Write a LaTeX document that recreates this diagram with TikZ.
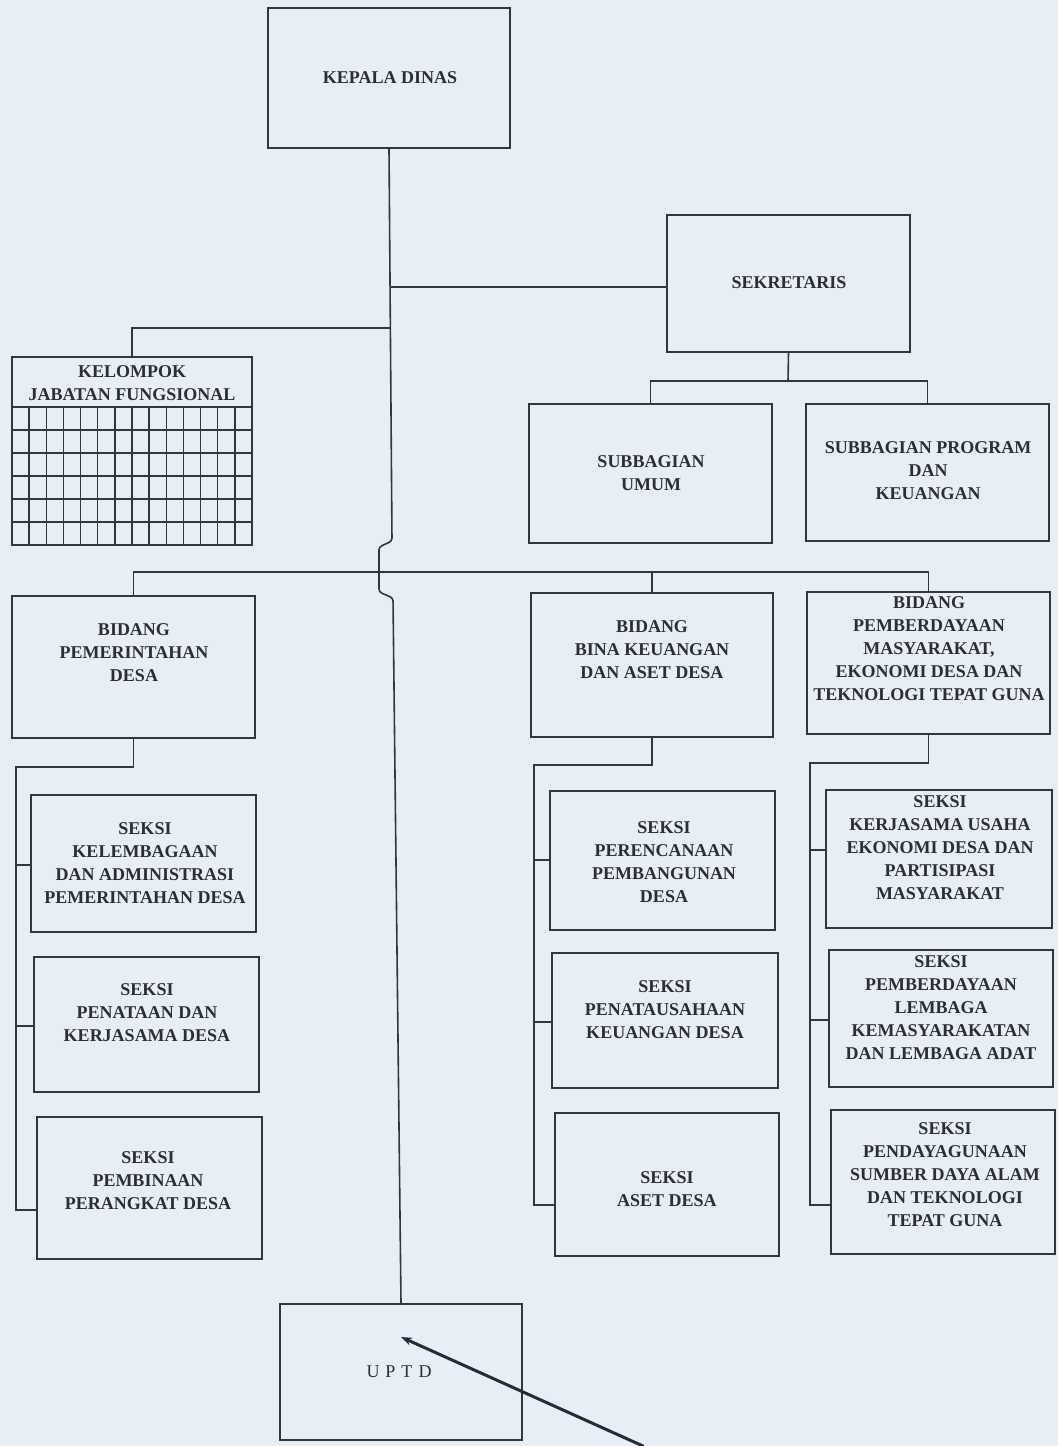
\documentclass[tikz,border=0pt]{standalone}
\usepackage{fontspec}
\setmainfont{Liberation Serif}
\usetikzlibrary{arrows.meta,calc}
\definecolor{bgc}{RGB}{232,238,246}
\definecolor{ink}{RGB}{52,54,60}
\definecolor{txtc}{RGB}{45,45,52}
\definecolor{pen}{RGB}{40,42,55}
\begin{document}
\begin{tikzpicture}[x=1pt,y=-1pt,
  box/.style={draw=ink, line width=1.6pt, inner sep=0pt},
  txt/.style={text=txtc, align=center, inner sep=0pt, font=\bfseries\fontsize{18pt}{23pt}\selectfont},
  conn/.style={draw=ink, line width=1.6pt},
  gridline/.style={draw=ink, line width=1.4pt}]
\fill[bgc] (0,0) rectangle (1058,1446);
\useasboundingbox (0,0) rectangle (1058,1446);

% boxes
\node[box, minimum width=242pt, minimum height=140pt] (kd) at (389,78) {};
\node[box, minimum width=243pt, minimum height=137pt] (sek) at (788.5,283.5) {};
\node[box, minimum width=240pt, minimum height=188pt] (kjf) at (132,451) {};
\node[box, minimum width=243pt, minimum height=139pt] (sbu) at (650.5,473.5) {};
\node[box, minimum width=243pt, minimum height=137pt] (sbp) at (927.5,472.5) {};
\node[box, minimum width=243pt, minimum height=142pt] (bpd) at (133.5,667) {};
\node[box, minimum width=242pt, minimum height=144pt] (bbk) at (652,665) {};
\node[box, minimum width=243pt, minimum height=142pt] (bpm) at (928.5,663) {};
\node[box, minimum width=225pt, minimum height=137pt] (ls1) at (143.5,863.5) {};
\node[box, minimum width=225pt, minimum height=135pt] (ls2) at (146.5,1024.5) {};
\node[box, minimum width=225pt, minimum height=142pt] (ls3) at (149.5,1188) {};
\node[box, minimum width=225pt, minimum height=139pt] (ms1) at (662.5,860.5) {};
\node[box, minimum width=226pt, minimum height=135pt] (ms2) at (665,1020.5) {};
\node[box, minimum width=224pt, minimum height=143pt] (ms3) at (667,1184.5) {};
\node[box, minimum width=226pt, minimum height=138pt] (rs1) at (939,859) {};
\node[box, minimum width=224pt, minimum height=137pt] (rs2) at (941,1018.5) {};
\node[box, minimum width=224pt, minimum height=144pt] (rs3) at (943,1182) {};
\node[box, minimum width=242pt, minimum height=136pt] (uptd) at (401,1372) {};

% grid inside KELOMPOK box
\draw[gridline] (12,407) -- (252,407);
\foreach \yy in {430,453,476,499,522} { \draw[gridline] (12,\yy) -- (252,\yy); }
\foreach \i in {1,...,13} { \draw[gridline] ({12+\i*240/14},407) -- ({12+\i*240/14},545); }

% texts
\node[txt] (kdT) at (390,78) {KEPALA DINAS};
\node[txt] (sekT) at (789,283) {SEKRETARIS};
\node[txt, fill=bgc, inner sep=1pt] (kjT) at (132,383) {KELOMPOK\\JABATAN FUNGSIONAL};
\node[txt] (sbuT) at (651,473) {SUBBAGIAN\\UMUM};
\node[txt] (sbpT) at (928,471) {SUBBAGIAN PROGRAM\\DAN\\KEUANGAN};
\node[txt] (bpdT) at (134,653) {BIDANG\\PEMERINTAHAN\\DESA};
\node[txt] (bbkT) at (652,650) {BIDANG\\BINA KEUANGAN\\DAN ASET DESA};
\node[txt] (bpmT) at (929,649) {BIDANG\\PEMBERDAYAAN\\MASYARAKAT,\\EKONOMI DESA DAN\\TEKNOLOGI TEPAT GUNA};
\node[txt] (ls1T) at (145,863) {SEKSI\\KELEMBAGAAN\\DAN ADMINISTRASI\\PEMERINTAHAN DESA};
\node[txt] (ls2T) at (147,1013) {SEKSI\\PENATAAN DAN\\KERJASAMA DESA};
\node[txt] (ls3T) at (148,1181) {SEKSI\\PEMBINAAN\\PERANGKAT DESA};
\node[txt] (ms1T) at (664,862) {SEKSI\\PERENCANAAN\\PEMBANGUNAN\\DESA};
\node[txt] (ms2T) at (665,1010) {SEKSI\\PENATAUSAHAAN\\KEUANGAN DESA};
\node[txt] (ms3T) at (667,1189) {SEKSI\\ASET DESA};
\node[txt] (rs1T) at (940,848) {SEKSI\\KERJASAMA USAHA\\EKONOMI DESA DAN\\PARTISIPASI\\MASYARAKAT};
\node[txt] (rs2T) at (941,1008) {SEKSI\\PEMBERDAYAAN\\LEMBAGA\\KEMASYARAKATAN\\DAN LEMBAGA ADAT};
\node[txt] (rs3T) at (945,1175) {SEKSI\\PENDAYAGUNAAN\\SUMBER DAYA ALAM\\DAN TEKNOLOGI\\TEPAT GUNA};
\node[txt, font=\fontsize{18pt}{23pt}\selectfont] (uptdT) at (399,1372) {U\,\,P\,\,T\,\,D};

% main trunk with hop
\coordinate (j1) at (392,541);
\coordinate (j2) at (379,547);
\coordinate (j3) at (379,592);
\coordinate (j4) at (393,598);
\draw[conn, rounded corners=3pt] (kd.south) -- (j1) -- (j2) -- (j3) -- (j4) -- (uptd.north);

% sekretaris
\coordinate (hs) at (390,287);
\draw[conn] (hs) -- (hs -| sek.west);
\coordinate (sb) at (788,381);
\draw[conn] (sek.south) -- (sb);
\draw[conn] (sbu.north) |- (sb) -| (sbp.north);

% kelompok jabatan fungsional
\coordinate (hk) at (391,328);
\draw[conn] (hk) -| (kjf.north);

% bidang bus
\coordinate (bb) at (379,572);
\draw[conn] (bpd.north) |- (bb) -| (bpm.north);
\draw[conn] (bbk.north) -- (bbk.north |- bb);

% left seksi
\coordinate (lt) at (16,767);
\coordinate (l1) at (16,865);
\coordinate (l2) at (16,1026);
\coordinate (lb) at (16,1210);
\draw[conn] (bpd.south) |- (lt) -- (lb) -- (lb -| ls3.west);
\draw[conn] (l1) -- (l1 -| ls1.west);
\draw[conn] (l2) -- (l2 -| ls2.west);

% middle seksi
\coordinate (mt) at (534,765);
\coordinate (m1) at (534,860);
\coordinate (m2) at (534,1022);
\coordinate (mb) at (534,1205);
\draw[conn] (bbk.south) |- (mt) -- (mb) -- (mb -| ms3.west);
\draw[conn] (m1) -- (m1 -| ms1.west);
\draw[conn] (m2) -- (m2 -| ms2.west);

% right seksi
\coordinate (rt) at (810,763);
\coordinate (r1) at (810,850);
\coordinate (r2) at (810,1020);
\coordinate (rb) at (810,1205);
\draw[conn] (bpm.south) |- (rt) -- (rb) -- (rb -| rs3.west);
\draw[conn] (r1) -- (r1 -| rs1.west);
\draw[conn] (r2) -- (r2 -| rs2.west);

% hand-drawn arrow
\coordinate (aS) at (643,1446);
\coordinate (aT) at (401,1337);
\draw[pen, line width=3pt, line cap=round, -{Stealth[length=11pt,width=8pt]}] (aS) -- (aT);
\end{tikzpicture}
\end{document}
